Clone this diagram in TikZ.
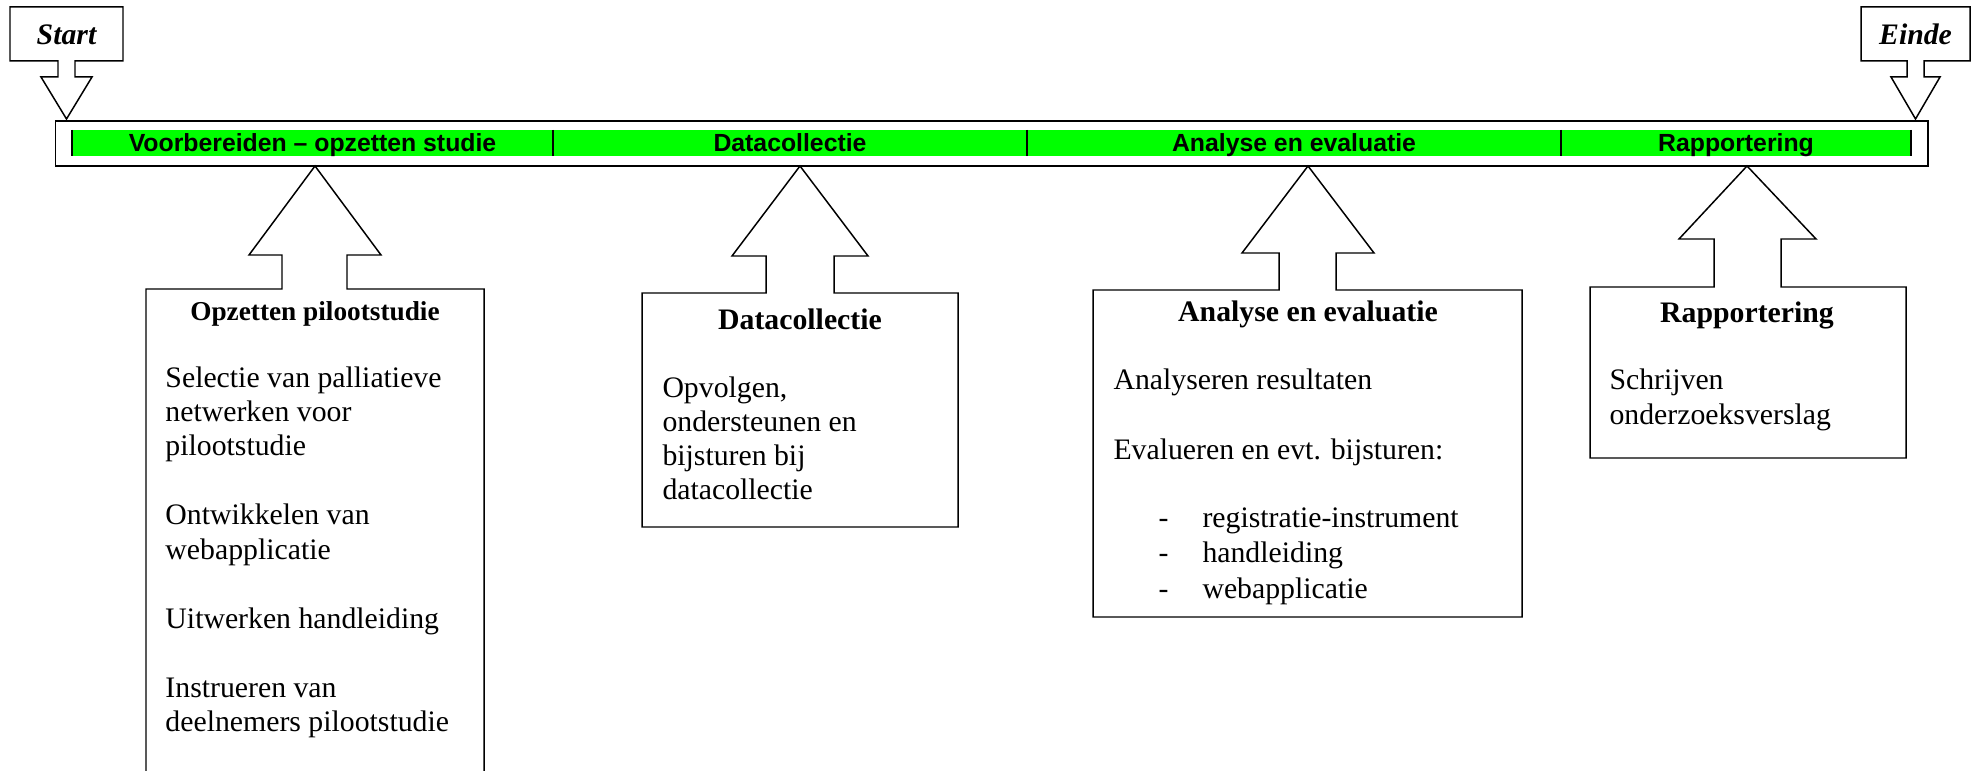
\documentclass[tikz,border=0pt]{standalone}
\usepackage{fontspec}
\setmainfont{Liberation Serif}
\newfontfamily\arialfont{Liberation Sans}
\definecolor{barGreen}{RGB}{0,255,0}
\begin{document}
\begin{tikzpicture}[x=0.4032pt,y=-0.4032pt, line join=miter,
  outline/.style={draw=black, line width=0.6pt, fill=white},
  divider/.style={draw=black, line width=0.8pt},
  body/.style={anchor=base west, inner sep=0pt, font=\fontsize{12}{13.8}\selectfont},
  ttl/.style={anchor=base, inner sep=0pt, font=\fontsize{12}{13.8}\selectfont\bfseries},
  phase/.style={anchor=base, inner sep=0pt, font=\arialfont\fontsize{10}{12}\selectfont\bfseries},
  endpt/.style={anchor=base, inner sep=0pt, font=\fontsize{12}{13.8}\selectfont\bfseries\itshape}]
\useasboundingbox (0,0) rectangle (1976,771);

% timeline
\draw[outline] (55.5,121) rectangle (1928,166);
\fill[barGreen] (72,130) rectangle (1911,156);
\foreach \x in {72,553,1027,1561,1911} \draw[divider] (\x,130) -- (\x,156);
\node[phase] (ph1) at (312.5,152) {Voorbereiden – opzetten studie};
\node[phase] (ph2) at (790,152) {Datacollectie};
\node[phase] (ph3) at (1294,152) {Analyse en evaluatie};
\node[phase] (ph4) at (1736,152) {Rapportering};

% tips
\coordinate (tS) at (66.5,119);
\coordinate (tE) at (1915.5,119);
\coordinate (t1) at (315,166);
\coordinate (t2) at (800,166);
\coordinate (t3) at (1308,166);
\coordinate (t4) at (1747,166);

% start / end callouts
\draw[outline] (10,7) -- (123,7) -- (123,61) -- (75,61) -- (75,77) -- (92,77) -- (tS) -- (41,77) -- (58,77) -- (58,61) -- (10,61) -- cycle;
\node[endpt] (start) at (66.5,45) {Start};
\draw[outline] (1861,7) -- (1970,7) -- (1970,61) -- (1924,61) -- (1924,77) -- (1940,77) -- (tE) -- (1891,77) -- (1907,77) -- (1907,61) -- (1861,61) -- cycle;
\node[endpt] (einde) at (1915.5,45) {Einde};

% box 1
\draw[outline] (146,771) -- (146,289) -- (282,289) -- (282,255) -- (249,255) -- (t1) -- (381,255) -- (347,255) -- (347,289) -- (484,289) -- (484,771);
\node[ttl, font=\fontsize{11}{13}\selectfont\bfseries] (b1t) at (315,321) {Opzetten pilootstudie};
\node[body] (b1a) at (165,388) {Selectie van palliatieve};
\node[body] (b1b) at (165,422) {netwerken voor};
\node[body] (b1c) at (165,456) {pilootstudie};
\node[body] (b1d) at (165,525) {Ontwikkelen van};
\node[body] (b1e) at (165,559) {webapplicatie};
\node[body] (b1f) at (165,628) {Uitwerken handleiding};
\node[body] (b1g) at (165,697) {Instrueren van};
\node[body] (b1h) at (165,731) {deelnemers pilootstudie};

% box 2
\draw[outline] (642,527) -- (642,293) -- (766,293) -- (766,256) -- (732,256) -- (t2) -- (868,256) -- (834,256) -- (834,293) -- (958,293) -- (958,527) -- cycle;
\node[ttl] (b2t) at (800,330) {Datacollectie};
\node[body] (b2a) at (662,398) {Opvolgen,};
\node[body] (b2b) at (662,432) {ondersteunen en};
\node[body] (b2c) at (662,466) {bijsturen bij};
\node[body] (b2d) at (662,500) {datacollectie};

% box 3
\draw[outline] (1093,617) -- (1093,290) -- (1279,290) -- (1279,253) -- (1242,253) -- (t3) -- (1374,253) -- (1336,253) -- (1336,290) -- (1522,290) -- (1522,617) -- cycle;
\node[ttl] (b3t) at (1308,322) {Analyse en evaluatie};
\node[body] (b3a) at (1113,390) {Analyseren resultaten};
\node[body] (b3b) at (1113,460) {Evalueren en evt. bijsturen:};
\node[body] (b3c) at (1158,528) {-};
\node[body] (b3d) at (1202,528) {registratie-instrument};
\node[body] (b3e) at (1158,563) {-};
\node[body] (b3f) at (1202,563) {handleiding};
\node[body] (b3g) at (1158,598) {-};
\node[body] (b3h) at (1202,598) {webapplicatie};

% box 4
\draw[outline] (1590,458) -- (1590,287) -- (1714,287) -- (1714,239) -- (1679,239) -- (t4) -- (1816,239) -- (1781,239) -- (1781,287) -- (1906,287) -- (1906,458) -- cycle;
\node[ttl] (b4t) at (1747,323) {Rapportering};
\node[body] (b4a) at (1609,390) {Schrijven};
\node[body] (b4b) at (1609,425) {onderzoeksverslag};
\end{tikzpicture}
\end{document}
